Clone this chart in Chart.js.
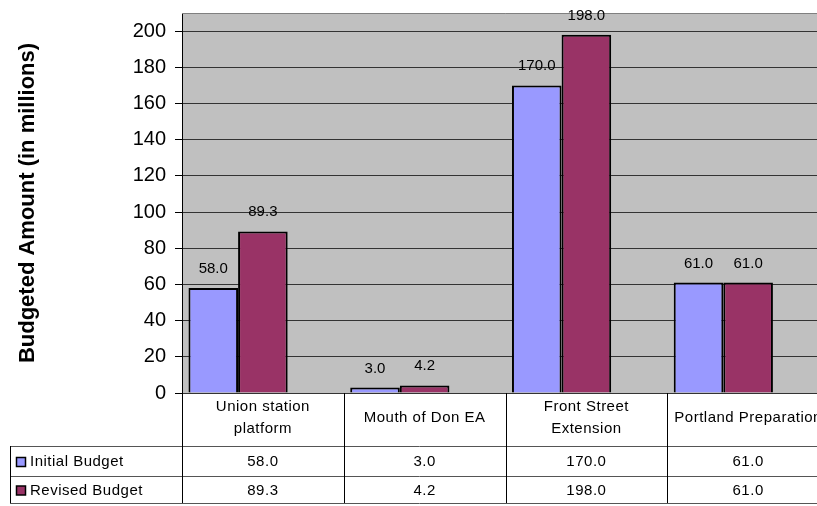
<!DOCTYPE html>
<html>
<head>
<meta charset="utf-8">
<script src="https://cdn.jsdelivr.net/npm/chart.js@4/dist/chart.umd.min.js"></script>
<style>
  html, body { margin: 0; padding: 0; background: #fff; overflow: hidden; }
</style>
</head>
<body>
<canvas id="myChart" width="829" height="506"></canvas>
<script>
// values
const categories = [['Union station', 'platform'], ['Mouth of Don EA'], ['Front Street', 'Extension'], ['Portland Preparation']];
const seriesNames = ['Initial Budget', 'Revised Budget'];
const initialBudget = [58.0, 3.0, 170.0, 61.0];
const revisedBudget = [89.3, 4.2, 198.0, 61.0];
const yMax = 210;
const yStep = 20;

const colors = ['#9999FF', '#993366'];
const font = '"Liberation Sans", Arial, sans-serif';
const series = [initialBudget, revisedBudget];

// grey plot area, drawn under grid lines
const plotBackground = {
    id: 'plotBackground',
    beforeDraw(chart) {
        const {ctx, chartArea: a} = chart;
        ctx.save();
        ctx.fillStyle = '#C0C0C0';
        ctx.fillRect(a.left, a.top, a.right - a.left, a.bottom - a.top);
        ctx.restore();
    },
    beforeDatasetsDraw(chart) {
        const {ctx, chartArea: a} = chart;
        ctx.save();
        ctx.strokeStyle = '#808080';
        ctx.lineWidth = 1;
        ctx.beginPath();
        ctx.moveTo(a.left, Math.round(a.top) + 0.5);
        ctx.lineTo(a.right - 0.5, Math.round(a.top) + 0.5);
        ctx.lineTo(a.right - 0.5, a.bottom);
        ctx.stroke();
        ctx.restore();
    }
};

// value labels above each bar
const barLabels = {
    id: 'barLabels',
    afterDatasetsDraw(chart) {
        const ctx = chart.ctx;
        ctx.save();
        ctx.font = '15px ' + font;
        ctx.fillStyle = '#000';
        ctx.textAlign = 'center';
        ctx.textBaseline = 'alphabetic';
        series.forEach((values, d) => {
            chart.getDatasetMeta(d).data.forEach((bar, i) => {
                ctx.fillText(values[i].toFixed(1), bar.x, bar.y - 15);
            });
        });
        ctx.restore();
    }
};

// Excel style data table under the plot
const dataTable = {
    id: 'dataTable',
    afterDraw(chart) {
        const {ctx, chartArea: a, scales: {x}} = chart;
        const colW = (a.right - a.left) / categories.length;
        const headerBottom = a.bottom + 53;
        const rowBottoms = [headerBottom + 30, headerBottom + 57];
        const tableLeft = 10;

        ctx.save();
        ctx.lineWidth = 1;

        // horizontal lines
        ctx.strokeStyle = '#555';
        ctx.beginPath();
        [headerBottom, ...rowBottoms].forEach(y => {
            ctx.moveTo(tableLeft, Math.round(y) + 0.5);
            ctx.lineTo(a.right, Math.round(y) + 0.5);
        });
        ctx.stroke();

        // vertical lines
        ctx.strokeStyle = '#000';
        ctx.beginPath();
        ctx.moveTo(tableLeft + 0.5, headerBottom);
        ctx.lineTo(tableLeft + 0.5, rowBottoms[1]);
        for (let i = 0; i < categories.length; i++) {
            const xx = Math.round(a.left + i * colW) + 0.5;
            ctx.moveTo(xx, a.bottom);
            ctx.lineTo(xx, rowBottoms[1]);
        }
        ctx.stroke();

        ctx.fillStyle = '#000';
        ctx.font = '15px ' + font;
        ctx.letterSpacing = '0.5px';
        ctx.textBaseline = 'middle';
        ctx.textAlign = 'center';

        // category headers
        const headerMid = a.bottom + 25;
        categories.forEach((lines, i) => {
            const cx = x.getPixelForTick(i);
            lines.forEach((line, j) => {
                const y = headerMid + (j - (lines.length - 1) / 2) * 22;
                ctx.fillText(line, cx, y);
            });
        });

        // series rows
        const rowTops = [headerBottom, rowBottoms[0]];
        series.forEach((values, d) => {
            const mid = (rowTops[d] + rowBottoms[d]) / 2 + 1;
            values.forEach((v, i) => {
                ctx.fillText(v.toFixed(1), x.getPixelForTick(i), mid);
            });
            // legend key
            ctx.fillStyle = colors[d];
            ctx.fillRect(16.5, mid - 4.5, 9, 9);
            ctx.strokeStyle = '#000';
            ctx.lineWidth = 1.5;
            ctx.strokeRect(16.5, mid - 4.5, 9, 9);
            ctx.fillStyle = '#000';
            ctx.textAlign = 'left';
            ctx.fillText(seriesNames[d], 30, mid);
            ctx.textAlign = 'center';
        });
        ctx.restore();
    }
};

const chartData = {
    labels: categories,
    datasets: [
        {
            label: seriesNames[0],
            data: initialBudget,
            backgroundColor: colors[0],
            borderColor: '#000',
            borderWidth: 2,
            categoryPercentage: 0.92,
            barPercentage: 1.0
        },
        {
            label: seriesNames[1],
            data: revisedBudget,
            backgroundColor: colors[1],
            borderColor: '#000',
            borderWidth: 2,
            categoryPercentage: 0.92,
            barPercentage: 1.0
        },
        {
            // empty slot, Excel leaves the bar pair left of the column centre
            label: '',
            data: categories.map(() => null),
            categoryPercentage: 0.92,
            barPercentage: 1.0
        }
    ]
};

const config = {
    type: 'bar',
    data: chartData,
    options: {
        responsive: false,
        animation: false,
        layout: {
            padding: {top: 13, bottom: 113, left: 0, right: 0}
        },
        plugins: {
            legend: {display: false},
            tooltip: {enabled: false}
        },
        scales: {
            x: {
                display: false
            },
            y: {
                min: 0,
                max: yMax,
                afterFit(scale) {
                    scale.width = 182;
                    scale.paddingTop = 0;
                    scale.paddingBottom = 0;
                },
                ticks: {
                    stepSize: yStep,
                    includeBounds: false,
                    color: '#000',
                    padding: 9,
                    font: {family: font, size: 20}
                },
                grid: {
                    color: '#333',
                    lineWidth: 1,
                    tickLength: 7,
                    tickColor: '#000',
                    drawTicks: true
                },
                border: {
                    display: true,
                    color: '#000',
                    width: 1
                },
                title: {
                    display: true,
                    text: 'Budgeted Amount (in millions)',
                    color: '#000',
                    font: {family: font, size: 22, weight: 'bold'},
                    padding: {top: 15, bottom: 0}
                }
            }
        }
    },
    plugins: [plotBackground, barLabels, dataTable]
};

const ctx = document.getElementById('myChart').getContext('2d');

if (ctx) {
    new Chart(ctx, config);
}
</script>
</body>
</html>
